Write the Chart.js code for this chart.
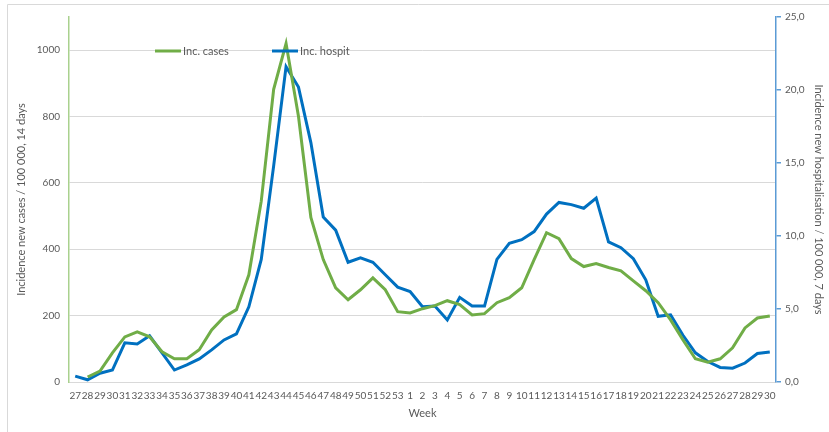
<!DOCTYPE html>
<html lang="en">
<head>
<meta charset="UTF-8">
<title>Incidence chart</title>
<style>
  html, body { margin: 0; padding: 0; background: #fff; }
  #wrap { width: 829px; height: 432px; }
</style>
</head>
<body>
<div id="wrap"><canvas id="incChart" width="829" height="432"></canvas></div>
<script src="https://cdn.jsdelivr.net/npm/chart.js"></script>
<script>
const weeks = ['27','28','29','30','31','32','33','34','35','36','37','38','39','40','41','42','43','44','45','46','47','48','49','50','51','52','53',
  '1','2','3','4','5','6','7','8','9','10','11','12','13','14','15','16','17','18','19','20','21','22','23','24','25','26','27','28','29','30'];

// incidence new cases / 100 000, 14 days (left axis)
const incCases = [null, 15, 33, 88, 136, 151, 136, 91, 70, 70, 97, 157, 196, 218, 323, 545, 882, 1020, 801, 496, 369, 284, 248,
  278, 314, 278, 212, 208, 221, 230, 245, 233, 202, 206, 239, 254, 284, 369, 450, 432, 372, 348, 357, 345, 335, 305,
  275, 239, 187, 127, 70, 60, 70, 103, 163, 193, 199];

// incidence new hospitalisation / 100 000, 7 days (right axis)
const incHospit = [0.4, 0.15, 0.6, 0.82, 2.68, 2.6, 3.16, 2.0, 0.82, 1.17, 1.58, 2.2, 2.88, 3.3, 5.15, 8.4, 14.8, 21.6, 20.2, 16.4, 11.3, 10.4, 8.2,
  8.5, 8.2, 7.35, 6.5, 6.2, 5.15, 5.2, 4.25, 5.8, 5.2, 5.2, 8.4, 9.5, 9.75, 10.3, 11.5, 12.3, 12.15, 11.9, 12.6, 9.6, 9.2, 8.45,
  7.0, 4.5, 4.6, 3.2, 2.0, 1.4, 1.0, 0.95, 1.3, 1.95, 2.05];

const leftTicks = [0, 200, 400, 600, 800, 1000];

const GREEN = '#70AD47';
const BLUE = '#0070C0';
const TXT = '#595959';
const FONT = 'Lato, "Liberation Sans", sans-serif';

// frame round the chart + legend inside the plot
const decor = {
    id: 'decor',
    beforeDraw(chart) {
        const c = chart.ctx;
        c.save();
        c.strokeStyle = '#d9d9d9';
        c.lineWidth = 1;
        c.beginPath();
        c.moveTo(7.5, 440);
        c.lineTo(7.5, 4.5);
        c.lineTo(840, 4.5);
        c.stroke();
        c.restore();
    },
    afterDraw(chart) {
        const c = chart.ctx;
        const items = [
            { x: 155, ds: chart.data.datasets[0] },
            { x: 272, ds: chart.data.datasets[1] }
        ];
        c.save();
        c.font = '11px ' + FONT;
        c.textBaseline = 'middle';
        items.forEach(it => {
            c.strokeStyle = it.ds.borderColor;
            c.lineWidth = 3;
            c.beginPath();
            c.moveTo(it.x, 51);
            c.lineTo(it.x + 26, 51);
            c.stroke();
            c.fillStyle = TXT;
            c.fillText(it.ds.label, it.x + 28, 51);
        });
        c.restore();
    }
};

new Chart(document.getElementById('incChart'), {
    type: 'line',
    data: {
        labels: weeks,
        datasets: [{
            label: 'Inc. cases',
            data: incCases,
            borderColor: GREEN,
            backgroundColor: GREEN,
            borderWidth: 3,
            pointRadius: 0,
            tension: 0,
            yAxisID: 'y'
        }, {
            label: 'Inc. hospit',
            data: incHospit,
            borderColor: BLUE,
            backgroundColor: BLUE,
            borderWidth: 3,
            pointRadius: 0,
            tension: 0,
            yAxisID: 'y2'
        }]
    },
    options: {
        responsive: false,
        animation: false,
        layout: { padding: { left: 11, right: 0, top: 17, bottom: 8 } },
        plugins: {
            legend: { display: false },
            tooltip: { enabled: false }
        },
        scales: {
            x: {
                offset: true,
                grid: { display: false, drawTicks: false },
                border: { color: '#d9d9d9', width: 1 },
                ticks: {
                    autoSkip: false, maxRotation: 0, minRotation: 0, padding: 8,
                    color: TXT, font: { family: FONT, size: 10 }
                },
                title: { display: true, text: 'Week', color: TXT, font: { family: FONT, size: 11 }, padding: 4 },
                afterFit(s) { s.height = 42; }
            },
            y: {
                position: 'left',
                min: 0, max: 1100,
                afterBuildTicks(s) { s.ticks = leftTicks.map(v => ({ value: v })); },
                grid: { color: '#d9d9d9', lineWidth: 1, drawTicks: false },
                border: { color: '#A9D18E', width: 1.5 },
                ticks: { padding: 9, color: TXT, font: { family: FONT, size: 10 }, callback: v => String(v) },
                title: { display: true, text: 'Incidence new cases / 100 000, 14 days', color: TXT, font: { family: FONT, size: 11 }, padding: 4 },
                afterFit(s) { s.width = 58; }
            },
            y2: {
                position: 'right',
                min: 0, max: 25,
                ticks: {
                    stepSize: 5, padding: 4, color: TXT, font: { family: FONT, size: 10 },
                    callback: v => v.toFixed(1).replace('.', ',')
                },
                grid: { drawOnChartArea: false, drawTicks: true, tickLength: 5, color: '#5B9BD5', lineWidth: 1.5 },
                border: { color: '#5B9BD5', width: 1.5 },
                title: { display: true, text: 'Incidence new hospitalisation / 100 000, 7 days', color: TXT, font: { family: FONT, size: 11 }, padding: 4 },
                afterFit(s) { s.width = 53; }
            }
        }
    },
    plugins: [decor]
});
</script>
</body>
</html>
